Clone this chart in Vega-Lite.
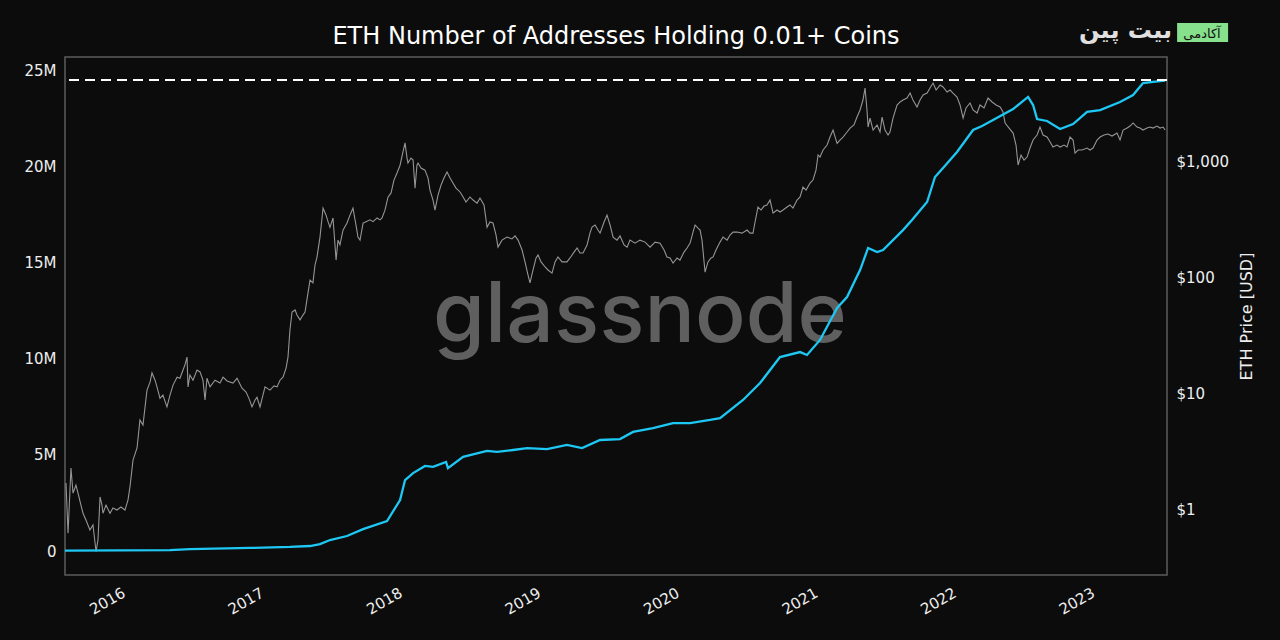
{
"$schema": "https://vega.github.io/schema/vega-lite/v6.json",
"width": 1102, "height": 518,
"autosize": {"type": "none"},
"padding": {"left": 65, "top": 57, "right": 113, "bottom": 65},
"background": "#0c0c0c",
"title": {"text": "ETH Number of Addresses Holding 0.01+ Coins", "fontSize": 24, "font": "DejaVu Sans", "fontWeight": "normal", "color": "#ffffff", "offset": -30, "anchor": "middle"},
"config": {"view": {"stroke": "#5c5c5c", "strokeWidth": 1.5}, "font": "DejaVu Sans"},
"datasets": {
"price": [
{"year":2015.610,"price":1.68},{"year":2015.625,"price":0.62},{"year":2015.646,"price":2.26},{"year":2015.661,"price":1.37},{"year":2015.682,"price":1.61},{"year":2015.697,"price":1.37},{"year":2015.718,"price":1.08},{"year":2015.733,"price":0.92},{"year":2015.755,"price":0.80},{"year":2015.783,"price":0.66},{"year":2015.805,"price":0.73},{"year":2015.827,"price":0.43},{"year":2015.841,"price":0.54},{"year":2015.856,"price":1.27},{"year":2015.870,"price":1.08},{"year":2015.877,"price":0.92},{"year":2015.899,"price":1.08},{"year":2015.928,"price":0.92},{"year":2015.949,"price":1.02},{"year":2015.978,"price":0.98},
{"year":2016.007,"price":1.04},{"year":2016.036,"price":0.98},{"year":2016.058,"price":1.20},{"year":2016.072,"price":1.55},{"year":2016.094,"price":2.64},{"year":2016.123,"price":3.36},{"year":2016.144,"price":5.85},{"year":2016.166,"price":5.30},{"year":2016.195,"price":10.6},{"year":2016.217,"price":12.4},{"year":2016.231,"price":14.9},{"year":2016.253,"price":12.9},{"year":2016.267,"price":11.3},{"year":2016.289,"price":9.0},{"year":2016.310,"price":9.6},{"year":2016.339,"price":7.6},{"year":2016.361,"price":9.6},{"year":2016.383,"price":11.7},{"year":2016.412,"price":13.7},{"year":2016.433,"price":13.4},{"year":2016.455,"price":15.8},{"year":2016.469,"price":17.5},{"year":2016.484,"price":20.4},{"year":2016.491,"price":11.3},{"year":2016.505,"price":14.3},{"year":2016.527,"price":12.9},{"year":2016.556,"price":15.8},{"year":2016.578,"price":15.2},{"year":2016.599,"price":12.9},{"year":2016.614,"price":8.7},{"year":2016.628,"price":13.4},{"year":2016.650,"price":11.3},{"year":2016.686,"price":12.9},{"year":2016.722,"price":12.2},{"year":2016.744,"price":13.7},{"year":2016.773,"price":12.7},{"year":2016.816,"price":12.2},{"year":2016.845,"price":13.4},{"year":2016.881,"price":11.0},{"year":2016.910,"price":10.2},{"year":2016.931,"price":9.0},{"year":2016.953,"price":7.6},{"year":2016.975,"price":8.7},{"year":2016.989,"price":9.2},
{"year":2017.011,"price":7.6},{"year":2017.032,"price":9.6},{"year":2017.047,"price":11.3},{"year":2017.083,"price":10.6},{"year":2017.112,"price":11.5},{"year":2017.134,"price":11.3},{"year":2017.155,"price":12.9},{"year":2017.177,"price":13.7},{"year":2017.199,"price":16.4},{"year":2017.213,"price":20.4},{"year":2017.227,"price":34.9},{"year":2017.242,"price":49.9},{"year":2017.264,"price":52},{"year":2017.278,"price":47},{"year":2017.300,"price":42.7},{"year":2017.321,"price":47},{"year":2017.336,"price":49.9},{"year":2017.357,"price":72.7},{"year":2017.372,"price":94},{"year":2017.393,"price":89},{"year":2017.408,"price":127},{"year":2017.422,"price":148},{"year":2017.444,"price":221},{"year":2017.466,"price":393},{"year":2017.487,"price":343},{"year":2017.502,"price":300},{"year":2017.516,"price":268},{"year":2017.538,"price":323},{"year":2017.560,"price":140},{"year":2017.574,"price":208},{"year":2017.588,"price":189},{"year":2017.610,"price":253},{"year":2017.639,"price":292},{"year":2017.661,"price":343},{"year":2017.682,"price":393},{"year":2017.704,"price":280},{"year":2017.718,"price":221},{"year":2017.733,"price":208},{"year":2017.755,"price":292},{"year":2017.776,"price":300},{"year":2017.805,"price":311},{"year":2017.827,"price":300},{"year":2017.856,"price":323},{"year":2017.877,"price":311},{"year":2017.892,"price":323},{"year":2017.913,"price":377},{"year":2017.935,"price":488},{"year":2017.957,"price":531},{"year":2017.978,"price":685},
{"year":2018.000,"price":788},{"year":2018.022,"price":920},{"year":2018.043,"price":1200},{"year":2018.058,"price":1432},{"year":2018.072,"price":1065},{"year":2018.079,"price":960},{"year":2018.101,"price":1060},{"year":2018.116,"price":1020},{"year":2018.130,"price":583},{"year":2018.144,"price":920},{"year":2018.152,"price":960},{"year":2018.173,"price":871},{"year":2018.202,"price":834},{"year":2018.224,"price":713},{"year":2018.238,"price":562},{"year":2018.260,"price":461},{"year":2018.274,"price":378},{"year":2018.296,"price":509},{"year":2018.318,"price":621},{"year":2018.339,"price":713},{"year":2018.361,"price":804},{"year":2018.383,"price":713},{"year":2018.404,"price":646},{"year":2018.426,"price":585},{"year":2018.455,"price":541},{"year":2018.477,"price":490},{"year":2018.498,"price":443},{"year":2018.527,"price":490},{"year":2018.549,"price":461},{"year":2018.578,"price":434},{"year":2018.599,"price":480},{"year":2018.628,"price":418},{"year":2018.650,"price":268},{"year":2018.671,"price":298},{"year":2018.693,"price":292},{"year":2018.715,"price":230},{"year":2018.729,"price":181},{"year":2018.758,"price":208},{"year":2018.794,"price":221},{"year":2018.830,"price":213},{"year":2018.852,"price":226},{"year":2018.874,"price":208},{"year":2018.903,"price":171},{"year":2018.924,"price":135},{"year":2018.946,"price":104},{"year":2018.960,"price":89},{"year":2018.982,"price":115},
{"year":2019.004,"price":146},{"year":2019.018,"price":155},{"year":2019.040,"price":135},{"year":2019.069,"price":122},{"year":2019.090,"price":115},{"year":2019.119,"price":108},{"year":2019.141,"price":135},{"year":2019.162,"price":149},{"year":2019.191,"price":135},{"year":2019.227,"price":135},{"year":2019.249,"price":146},{"year":2019.278,"price":164},{"year":2019.300,"price":178},{"year":2019.321,"price":161},{"year":2019.343,"price":161},{"year":2019.372,"price":189},{"year":2019.393,"price":239},{"year":2019.408,"price":270},{"year":2019.430,"price":281},{"year":2019.451,"price":254},{"year":2019.466,"price":239},{"year":2019.495,"price":298},{"year":2019.516,"price":342},{"year":2019.538,"price":281},{"year":2019.560,"price":221},{"year":2019.588,"price":208},{"year":2019.610,"price":226},{"year":2019.639,"price":189},{"year":2019.661,"price":181},{"year":2019.682,"price":208},{"year":2019.718,"price":196},{"year":2019.754,"price":208},{"year":2019.791,"price":200},{"year":2019.827,"price":181},{"year":2019.863,"price":200},{"year":2019.899,"price":196},{"year":2019.928,"price":171},{"year":2019.949,"price":149},{"year":2019.971,"price":146},{"year":2019.993,"price":132},
{"year":2020.022,"price":146},{"year":2020.043,"price":140},{"year":2020.072,"price":164},{"year":2020.094,"price":178},{"year":2020.116,"price":196},{"year":2020.137,"price":244},{"year":2020.152,"price":281},{"year":2020.173,"price":264},{"year":2020.188,"price":254},{"year":2020.202,"price":208},{"year":2020.224,"price":110},{"year":2020.245,"price":135},{"year":2020.267,"price":146},{"year":2020.282,"price":149},{"year":2020.303,"price":171},{"year":2020.332,"price":200},{"year":2020.354,"price":221},{"year":2020.383,"price":208},{"year":2020.404,"price":230},{"year":2020.426,"price":244},{"year":2020.455,"price":244},{"year":2020.491,"price":239},{"year":2020.527,"price":254},{"year":2020.549,"price":239},{"year":2020.570,"price":239},{"year":2020.585,"price":298},{"year":2020.606,"price":401},{"year":2020.628,"price":378},{"year":2020.650,"price":409},{"year":2020.671,"price":418},{"year":2020.693,"price":461},{"year":2020.715,"price":356},{"year":2020.744,"price":378},{"year":2020.765,"price":363},{"year":2020.787,"price":378},{"year":2020.816,"price":401},{"year":2020.837,"price":418},{"year":2020.859,"price":393},{"year":2020.888,"price":461},{"year":2020.910,"price":490},{"year":2020.931,"price":597},{"year":2020.953,"price":562},{"year":2020.982,"price":646},
{"year":2021.003,"price":686},{"year":2021.025,"price":836},{"year":2021.040,"price":1127},{"year":2021.054,"price":1082},{"year":2021.076,"price":1244},{"year":2021.105,"price":1374},{"year":2021.126,"price":1610},{"year":2021.148,"price":1849},{"year":2021.177,"price":1420},{"year":2021.198,"price":1517},{"year":2021.220,"price":1610},{"year":2021.249,"price":1778},{"year":2021.271,"price":1924},{"year":2021.299,"price":2043},{"year":2021.321,"price":2393},{"year":2021.343,"price":2754},{"year":2021.364,"price":3357},{"year":2021.379,"price":4260},{"year":2021.393,"price":2754},{"year":2021.401,"price":1963},{"year":2021.415,"price":2347},{"year":2021.437,"price":1849},{"year":2021.466,"price":2043},{"year":2021.487,"price":1778},{"year":2021.502,"price":2393},{"year":2021.523,"price":1849},{"year":2021.545,"price":1676},{"year":2021.559,"price":1778},{"year":2021.581,"price":2347},{"year":2021.610,"price":3040},{"year":2021.632,"price":3228},{"year":2021.653,"price":3357},{"year":2021.682,"price":3493},{"year":2021.704,"price":3855},{"year":2021.725,"price":3357},{"year":2021.754,"price":2923},{"year":2021.776,"price":3357},{"year":2021.798,"price":3707},{"year":2021.827,"price":3855},{"year":2021.848,"price":4260},{"year":2021.870,"price":4699},{"year":2021.892,"price":4093},{"year":2021.921,"price":4519},{"year":2021.942,"price":4345},{"year":2021.971,"price":3936},{"year":2021.993,"price":4093},
{"year":2022.014,"price":3855},{"year":2022.043,"price":3562},{"year":2022.065,"price":3040},{"year":2022.087,"price":2347},{"year":2022.108,"price":2865},{"year":2022.137,"price":3162},{"year":2022.159,"price":2754},{"year":2022.188,"price":2594},{"year":2022.209,"price":3040},{"year":2022.238,"price":2865},{"year":2022.267,"price":3493},{"year":2022.296,"price":3228},{"year":2022.325,"price":3040},{"year":2022.354,"price":2923},{"year":2022.375,"price":2645},{"year":2022.390,"price":2128},{"year":2022.419,"price":1924},{"year":2022.448,"price":1742},{"year":2022.469,"price":1374},{"year":2022.484,"price":924},{"year":2022.505,"price":1127},{"year":2022.527,"price":1020},{"year":2022.549,"price":1082},{"year":2022.570,"price":1294},{"year":2022.592,"price":1517},{"year":2022.621,"price":1676},{"year":2022.642,"price":1963},{"year":2022.664,"price":1676},{"year":2022.693,"price":1610},{"year":2022.715,"price":1459},{"year":2022.736,"price":1321},{"year":2022.765,"price":1374},{"year":2022.787,"price":1321},{"year":2022.816,"price":1374},{"year":2022.837,"price":1321},{"year":2022.859,"price":1610},{"year":2022.881,"price":1517},{"year":2022.895,"price":1172},{"year":2022.917,"price":1244},{"year":2022.946,"price":1244},{"year":2022.982,"price":1294},
{"year":2023.003,"price":1244},{"year":2023.025,"price":1294},{"year":2023.054,"price":1517},{"year":2023.076,"price":1610},{"year":2023.104,"price":1676},{"year":2023.133,"price":1709},{"year":2023.162,"price":1643},{"year":2023.198,"price":1742},{"year":2023.220,"price":1517},{"year":2023.242,"price":1849},{"year":2023.271,"price":1924},{"year":2023.292,"price":2003},{"year":2023.314,"price":2128},{"year":2023.343,"price":1963},{"year":2023.364,"price":1924},{"year":2023.386,"price":1849},{"year":2023.415,"price":1924},{"year":2023.437,"price":1963},{"year":2023.458,"price":1924},{"year":2023.487,"price":2003},{"year":2023.509,"price":1924},{"year":2023.531,"price":1963},{"year":2023.545,"price":1849}
],
"addresses": [
{"year":2015.603,"addresses":20000},{"year":2016.0,"addresses":30000},{"year":2016.361,"addresses":50000},{"year":2016.505,"addresses":100000},{"year":2016.939,"addresses":160000},{"year":2017.227,"addresses":210000},{"year":2017.372,"addresses":260000},{"year":2017.444,"addresses":360000},{"year":2017.516,"addresses":570000},{"year":2017.639,"addresses":780000},{"year":2017.755,"addresses":1140000},{"year":2017.928,"addresses":1560000},{"year":2018.022,"addresses":2650000},{"year":2018.058,"addresses":3690000},{"year":2018.116,"addresses":4050000},{"year":2018.202,"addresses":4420000},{"year":2018.26,"addresses":4370000},{"year":2018.354,"addresses":4630000},{"year":2018.368,"addresses":4310000},{"year":2018.477,"addresses":4890000},{"year":2018.65,"addresses":5200000},{"year":2018.722,"addresses":5150000},{"year":2018.838,"addresses":5250000},{"year":2018.939,"addresses":5350000},{"year":2019.083,"addresses":5300000},{"year":2019.227,"addresses":5510000},{"year":2019.336,"addresses":5350000},{"year":2019.466,"addresses":5770000},{"year":2019.61,"addresses":5820000},{"year":2019.704,"addresses":6190000},{"year":2019.848,"addresses":6390000},{"year":2019.993,"addresses":6650000},{"year":2020.116,"addresses":6650000},{"year":2020.26,"addresses":6810000},{"year":2020.332,"addresses":6910000},{"year":2020.498,"addresses":7850000},{"year":2020.621,"addresses":8730000},{"year":2020.765,"addresses":10080000},{"year":2020.91,"addresses":10340000},{"year":2020.96,"addresses":10190000},{"year":2021.054,"addresses":10970000},{"year":2021.177,"addresses":12630000},{"year":2021.249,"addresses":13200000},{"year":2021.343,"addresses":14600000},{"year":2021.401,"addresses":15750000},{"year":2021.466,"addresses":15540000},{"year":2021.509,"addresses":15640000},{"year":2021.653,"addresses":16680000},{"year":2021.718,"addresses":17200000},{"year":2021.827,"addresses":18140000},{"year":2021.884,"addresses":19440000},{"year":2021.942,"addresses":19910000},{"year":2022.043,"addresses":20740000},{"year":2022.159,"addresses":21880000},{"year":2022.224,"addresses":22090000},{"year":2022.303,"addresses":22400000},{"year":2022.448,"addresses":22970000},{"year":2022.556,"addresses":23600000},{"year":2022.592,"addresses":23180000},{"year":2022.621,"addresses":22450000},{"year":2022.693,"addresses":22350000},{"year":2022.787,"addresses":21930000},{"year":2022.881,"addresses":22190000},{"year":2022.982,"addresses":22820000},{"year":2023.076,"addresses":22920000},{"year":2023.22,"addresses":23340000},{"year":2023.314,"addresses":23700000},{"year":2023.386,"addresses":24320000},{"year":2023.458,"addresses":24380000},{"year":2023.545,"addresses":24450000}
]
},
"layer": [
{
"data": {"name": "price"},
"mark": {"type": "line", "color": "#959595", "strokeWidth": 1.1, "clip": true},
"encoding": {
"x": {"field": "year", "type": "quantitative", "scale": {"domain": [2015.603, 2023.559], "nice": false, "zero": false},
"axis": {"values": [2016,2017,2018,2019,2020,2021,2022,2023], "format": "d", "labelAngle": -30, "labelAlign": "right", "labelBaseline": "top", "ticks": false, "domain": false, "grid": false, "labelColor": "#eeeeee", "labelFontSize": 15, "labelPadding": 10, "title": null, "labelFont": "DejaVu Sans"}},
"y": {"field": "price", "type": "quantitative", "scale": {"type": "log", "domain": [0.27, 7883], "nice": false},
"axis": {"orient": "right", "values": [1,10,100,1000], "labelExpr": "'$' + format(datum.value, ',')", "ticks": false, "domain": false, "grid": false, "labelColor": "#eeeeee", "labelFontSize": 15, "labelPadding": 9, "labelFont": "DejaVu Sans", "title": "ETH Price [USD]", "titleFont": "DejaVu Sans", "titleFontSize": 16, "titleFontWeight": "normal", "titleColor": "#eeeeee", "titleAngle": 270, "titleBaseline": "top", "titlePadding": 10}}
}
},
{
"layer": [
{
"data": {"values": [{"label": "glassnode"}]},
"mark": {"type": "text", "font": "Inter", "fontWeight": 500, "fontSize": 84, "color": "#5f5f5f", "align": "center", "baseline": "alphabetic"},
"encoding": {
"text": {"field": "label"},
"x": {"datum": 2019.754, "type": "quantitative"},
"y": {"datum": 10860000, "type": "quantitative"}
}
},
{
"data": {"name": "addresses"},
"mark": {"type": "line", "color": "#1ec8f5", "strokeWidth": 2.3, "clip": true},
"encoding": {
"x": {"field": "year", "type": "quantitative", "scale": {"domain": [2015.603, 2023.559], "nice": false, "zero": false}},
"y": {"field": "addresses", "type": "quantitative", "scale": {"domain": [-1247000, 25676000], "nice": false, "zero": false},
"axis": {"orient": "left", "values": [0,5000000,10000000,15000000,20000000,25000000], "labelExpr": "datum.value == 0 ? '0' : (datum.value / 1000000) + 'M'", "ticks": false, "domain": false, "grid": false, "labelColor": "#eeeeee", "labelFontSize": 15, "labelPadding": 9, "labelFont": "DejaVu Sans", "title": null}}
}
},
{
"data": {"values": [{"level": 24480000}]},
"mark": {"type": "rule", "color": "#ffffff", "strokeWidth": 2, "strokeDash": [10, 6]},
"encoding": {
"y": {"field": "level", "type": "quantitative"}
}
},
{
"data": {"values": [{"name": "logo"}]},
"mark": {"type": "rect", "color": "#87e08c"},
"encoding": {
"x": {"datum": 2023.632, "type": "quantitative"},
"x2": {"datum": 2024.0},
"y": {"datum": 27440000, "type": "quantitative"},
"y2": {"datum": 26460000}
}
},
{
"data": {"values": [{"label": "آکادمی"}]},
"mark": {"type": "text", "font": "DejaVu Sans", "fontSize": 13, "color": "#111111", "align": "center", "baseline": "alphabetic"},
"encoding": {
"text": {"field": "label"},
"x": {"datum": 2023.812, "type": "quantitative"},
"y": {"datum": 26660000, "type": "quantitative"}
}
},
{
"data": {"values": [{"label": "بیت پین"}]},
"mark": {"type": "text", "font": "DejaVu Sans", "fontSize": 24, "fontWeight": "bold", "color": "#e0e0e0", "align": "right", "baseline": "alphabetic"},
"encoding": {
"text": {"field": "label"},
"x": {"datum": 2023.595, "type": "quantitative"},
"y": {"datum": 26660000, "type": "quantitative"}
}
}
]
}
],
"resolve": {"scale": {"y": "independent"}}
}
